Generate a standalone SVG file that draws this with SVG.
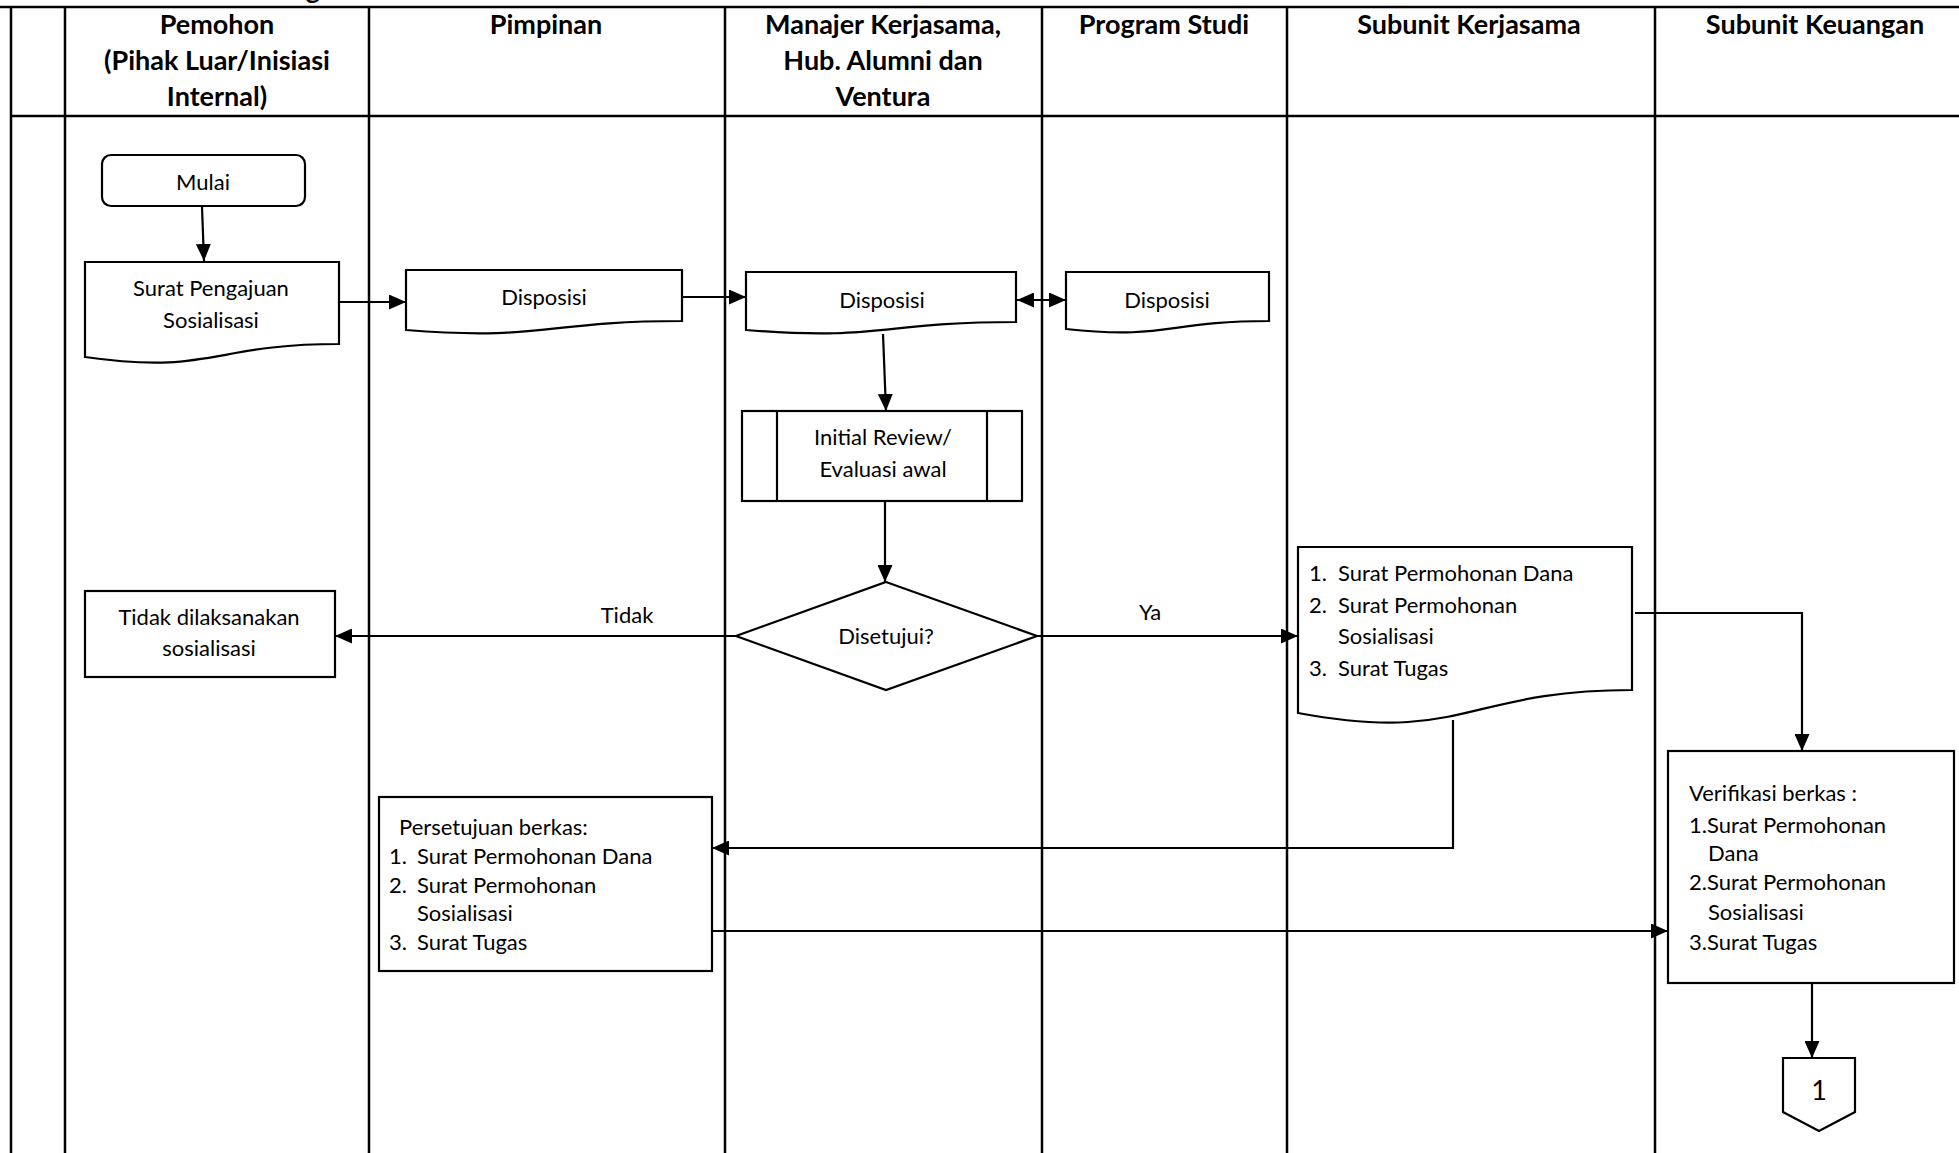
<svg xmlns="http://www.w3.org/2000/svg" width="1959" height="1153" viewBox="0 0 1959 1153">
<defs>
<marker id="arr" markerWidth="17" markerHeight="15" refX="17" refY="7.5" orient="auto" markerUnits="userSpaceOnUse">
<path d="M0,0 L17,7.5 L0,15 Z" fill="#000"/>
</marker>
<marker id="arrs" markerWidth="17" markerHeight="15" refX="0" refY="7.5" orient="auto" markerUnits="userSpaceOnUse">
<path d="M17,0 L0,7.5 L17,15 Z" fill="#000"/>
</marker>
<style>
.grid{stroke:#000;stroke-width:2.5;fill:none}
.shape{stroke:#000;stroke-width:2.2;fill:#fff}
.con{stroke:#000;stroke-width:2.2;fill:none}
.hd{font-family:Lato,"Liberation Sans",sans-serif;font-weight:bold;font-size:27px;fill:#000;text-anchor:middle}
.t{font-family:Lato,"Liberation Sans",sans-serif;font-size:22px;fill:#000}
.c{text-anchor:middle}
</style>
</defs>
<rect width="1959" height="1153" fill="#fff"/>
<text class="hd" x="313" y="-1">g</text>
<g id="lanes">
<line class="grid" x1="0" y1="7" x2="1959" y2="7"/>
<line class="grid" x1="11" y1="116" x2="1959" y2="116"/>
<line class="grid" x1="11" y1="7" x2="11" y2="1153"/>
<line class="grid" x1="65" y1="7" x2="65" y2="1153"/>
<line class="grid" x1="369" y1="7" x2="369" y2="1153"/>
<line class="grid" x1="725" y1="7" x2="725" y2="1153"/>
<line class="grid" x1="1042" y1="7" x2="1042" y2="1153"/>
<line class="grid" x1="1287" y1="7" x2="1287" y2="1153"/>
<line class="grid" x1="1655" y1="7" x2="1655" y2="1153"/>
<text class="hd" x="217" y="34">Pemohon</text>
<text class="hd" x="217" y="70">(Pihak Luar/Inisiasi</text>
<text class="hd" x="217" y="106">Internal)</text>
<text class="hd" x="546" y="34">Pimpinan</text>
<text class="hd" x="883" y="34">Manajer Kerjasama,</text>
<text class="hd" x="883" y="70">Hub. Alumni dan</text>
<text class="hd" x="883" y="106">Ventura</text>
<text class="hd" x="1164" y="34">Program Studi</text>
<text class="hd" x="1469" y="34">Subunit Kerjasama</text>
<text class="hd" x="1815" y="34">Subunit Keuangan</text>
</g>
<g id="connectors">
<line class="con" x1="202" y1="207" x2="204" y2="261" marker-end="url(#arr)"/>
<line class="con" x1="339" y1="302" x2="406" y2="302" marker-end="url(#arr)"/>
<line class="con" x1="682" y1="297" x2="746" y2="297" marker-end="url(#arr)"/>
<line class="con" x1="1017" y1="300" x2="1066" y2="300" marker-start="url(#arrs)" marker-end="url(#arr)"/>
<line class="con" x1="883" y1="334" x2="886" y2="411" marker-end="url(#arr)"/>
<line class="con" x1="885" y1="502" x2="885" y2="582" marker-end="url(#arr)"/>
<line class="con" x1="736" y1="636" x2="335" y2="636" marker-end="url(#arr)"/>
<text class="t c" x="627" y="623">Tidak</text>
<line class="con" x1="1037" y1="636" x2="1298" y2="636" marker-end="url(#arr)"/>
<text class="t c" x="1150" y="620">Ya</text>
<polyline class="con" points="1635,613 1802,613 1802,751" marker-end="url(#arr)"/>
<polyline class="con" points="1453,720 1453,848 712,848" marker-end="url(#arr)"/>
<line class="con" x1="712" y1="931" x2="1668" y2="931" marker-end="url(#arr)"/>
<line class="con" x1="1812" y1="983" x2="1812" y2="1058" marker-end="url(#arr)"/>
</g>
<g id="mulai">
<rect class="shape" x="102" y="155" width="203" height="51" rx="9"/>
<text class="t c" x="203" y="190">Mulai</text>
</g>
<g id="surat-pengajuan">
<path class="shape" d="M85,262 H339 V344 C212,344 212,375 85,357 Z"/>
<text class="t c" x="211" y="296">Surat Pengajuan</text>
<text class="t c" x="211" y="328">Sosialisasi</text>
</g>
<g id="disposisi-pimpinan">
<path class="shape" d="M406,270 H682 V321 C544,321 544,341 406,330 Z"/>
<text class="t c" x="544" y="305">Disposisi</text>
</g>
<g id="disposisi-manajer">
<path class="shape" d="M746,272 H1016 V322 C881,322 881,341 746,330 Z"/>
<text class="t c" x="882" y="308">Disposisi</text>
</g>
<g id="disposisi-prodi">
<path class="shape" d="M1066,272 H1269 V321 C1167,321 1167,340 1066,329 Z"/>
<text class="t c" x="1167" y="308">Disposisi</text>
</g>
<g id="initial-review">
<rect class="shape" x="742" y="411" width="280" height="90"/>
<line class="con" x1="777" y1="411" x2="777" y2="501"/>
<line class="con" x1="987" y1="411" x2="987" y2="501"/>
<text class="t c" x="883" y="445">Initial Review/</text>
<text class="t c" x="883" y="477">Evaluasi awal</text>
</g>
<g id="disetujui">
<polygon class="shape" points="886,582 1037,636 886,690 736,636"/>
<text class="t c" x="886" y="644">Disetujui?</text>
</g>
<g id="tidak-dilaksanakan">
<rect class="shape" x="85" y="591" width="250" height="86"/>
<text class="t c" x="209" y="625">Tidak dilaksanakan</text>
<text class="t c" x="209" y="656">sosialisasi</text>
</g>
<g id="surat-permohonan">
<path class="shape" d="M1298,547 H1632 V690 C1465,690 1465,744 1298,713 Z"/>
<text class="t" x="1309" y="581">1.</text>
<text class="t" x="1338" y="581">Surat Permohonan Dana</text>
<text class="t" x="1309" y="613">2.</text>
<text class="t" x="1338" y="613">Surat Permohonan</text>
<text class="t" x="1338" y="644">Sosialisasi</text>
<text class="t" x="1309" y="676">3.</text>
<text class="t" x="1338" y="676">Surat Tugas</text>
</g>
<g id="persetujuan">
<rect class="shape" x="379" y="797" width="333" height="174"/>
<text class="t" x="399" y="835">Persetujuan berkas:</text>
<text class="t" x="389" y="864">1.</text>
<text class="t" x="417" y="864">Surat Permohonan Dana</text>
<text class="t" x="389" y="893">2.</text>
<text class="t" x="417" y="893">Surat Permohonan</text>
<text class="t" x="417" y="921">Sosialisasi</text>
<text class="t" x="389" y="950">3.</text>
<text class="t" x="417" y="950">Surat Tugas</text>
</g>
<g id="verifikasi">
<rect class="shape" x="1668" y="751" width="286" height="232"/>
<text class="t" x="1689" y="801">Verifikasi berkas :</text>
<text class="t" x="1689" y="833">1.Surat Permohonan</text>
<text class="t" x="1708" y="861">Dana</text>
<text class="t" x="1689" y="890">2.Surat Permohonan</text>
<text class="t" x="1708" y="920">Sosialisasi</text>
<text class="t" x="1689" y="950">3.Surat Tugas</text>
</g>
<g id="connector-1">
<polygon class="shape" points="1783,1058 1855,1058 1855,1112 1819,1131 1783,1112"/>
<text class="t c" x="1819" y="1100" style="font-size:27px">1</text>
</g>
</svg>
